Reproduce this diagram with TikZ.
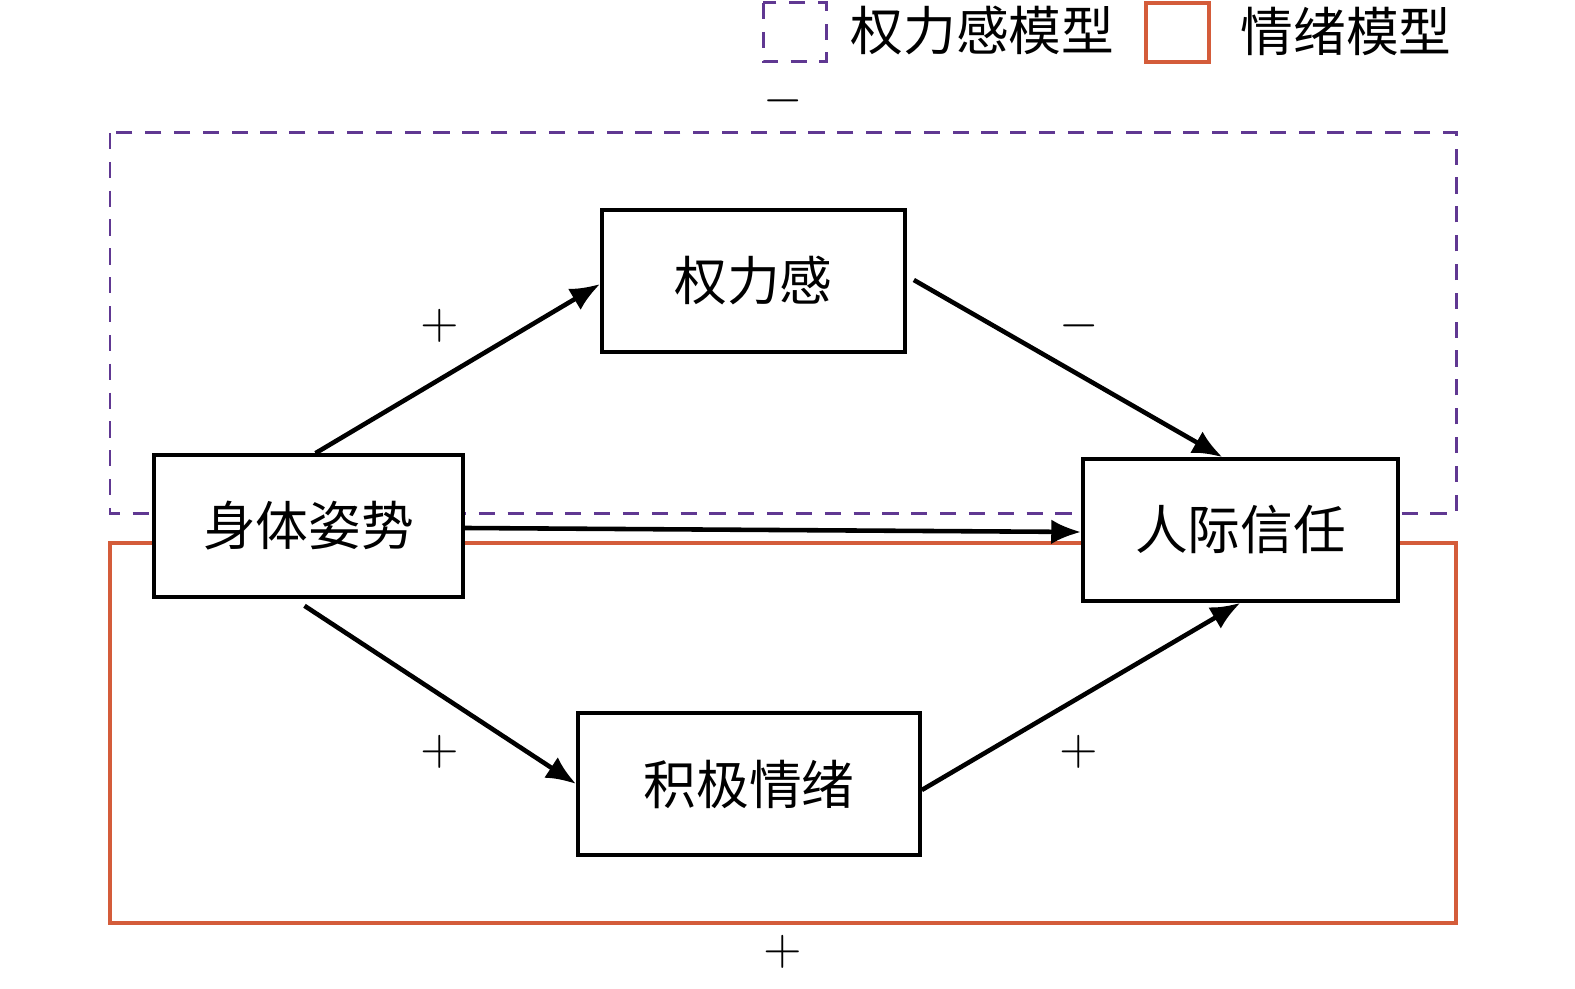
\documentclass[tikz,border=0pt]{standalone}
\usepackage{fontspec}
\newfontfamily\cjk{Noto Sans CJK SC}
\usetikzlibrary{arrows.meta,calc}
\definecolor{powerpurple}{RGB}{96,56,146}
\definecolor{moodorange}{RGB}{212,92,58}
\tikzset{
	box/.style={draw, line width=1pt, fill=white, inner sep=0pt, font=\cjk\fontsize{15}{18}\selectfont},
	link/.style={line width=1.3pt, -{Latex[length=8.5pt,width=7pt]}},
	sign/.style={inner sep=0pt, font=\fontsize{14}{16}\selectfont},
	powerline/.style={draw=powerpurple, line width=0.85pt, dash pattern=on 4.6pt off 3.6pt},
	moodline/.style={draw=moodorange, line width=0.95pt}
}
\begin{document}
\begin{tikzpicture}[x=0.01cm, y=-0.01cm]
			\useasboundingbox (0,0) rectangle (1575,989);
			% MODEL FRAMES
			\draw[powerline] (110,133) rectangle (1456,514);
			\draw[moodline] (110,543) rectangle (1456,923);
			
			% LEGEND
			\draw[powerline] (763,3) rectangle (826,62);
			\node[anchor=west, inner sep=0pt, font=\cjk\fontsize{15}{18}\selectfont] (legpower) at (850,31) {权力感模型};
			\draw[moodline] (1146,3) rectangle (1209,62);
			\node[anchor=west, inner sep=0pt, font=\cjk\fontsize{15}{18}\selectfont] (legmood) at (1240,31) {情绪模型};
			
			% BOXES
			\node[box, minimum width=3.09cm, minimum height=1.42cm] (posture) at (308.5,526) {身体姿势};
			\node[box, minimum width=3.03cm, minimum height=1.42cm] (power) at (753.5,281) {权力感};
			\node[box, minimum width=3.15cm, minimum height=1.42cm] (trust) at (1240.5,530) {人际信任};
			\node[box, minimum width=3.42cm, minimum height=1.42cm] (mood) at (749,784) {积极情绪};
			
			% DRAW ARROWS
			\draw[link] ([xshift=0.07cm]posture.north) -- ([yshift=-0.03cm]power.west);
			\draw[link] ([xshift=0.07cm, yshift=0.01cm]power.east) -- ([xshift=-0.18cm]trust.north);
			\draw[link] ([yshift=-0.02cm]posture.east) -- ([yshift=-0.02cm]trust.west);
			\draw[link] ([xshift=-0.04cm, yshift=-0.07cm]posture.south) -- (mood.west);
			\draw[link] ([yshift=-0.06cm]mood.east) -- (trust.south);
			
			% SIGNS
			\node[sign] (s1) at (783,101) {$-$};
			\node[sign] (s2) at (440,326) {$+$};
			\node[sign] (s3) at (1079,326) {$-$};
			\node[sign] (s4) at (440,752) {$+$};
			\node[sign] (s5) at (1079,752) {$+$};
			\node[sign] (s6) at (783,952) {$+$};
		\end{tikzpicture}
\end{document}
